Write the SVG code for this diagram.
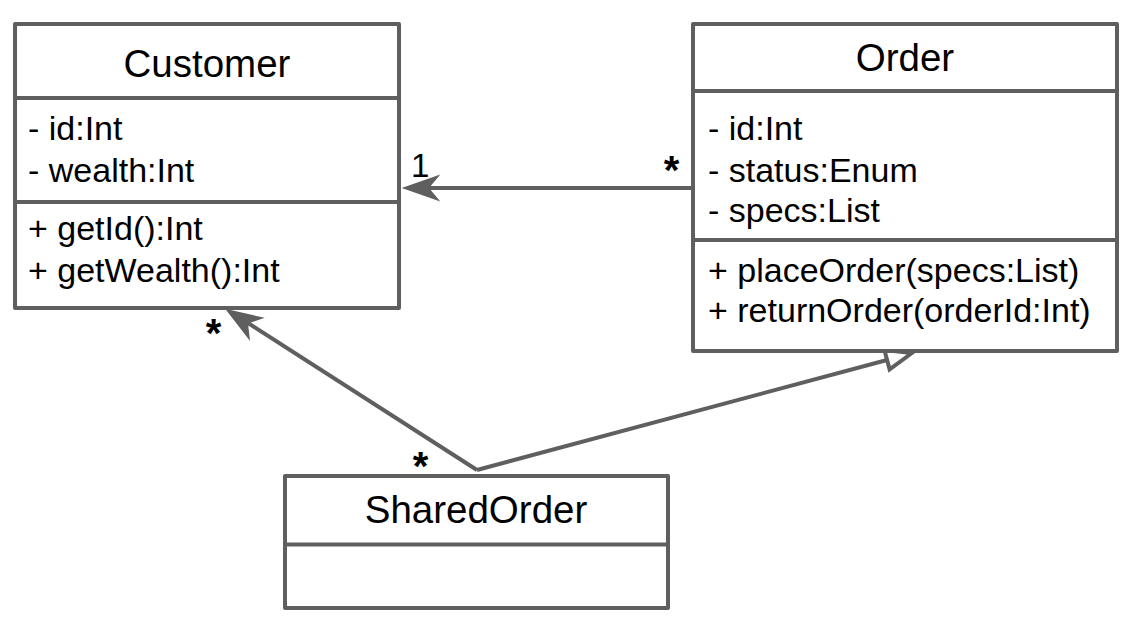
<svg xmlns="http://www.w3.org/2000/svg" width="1140" height="626" viewBox="0 0 1140 626">
<style>
.box{fill:#ffffff;stroke:#5f5f5f;stroke-width:4;stroke-linejoin:round}
.div{stroke:#5f5f5f;stroke-width:4;fill:none}
.t{font-family:"Liberation Sans",Arial,sans-serif;fill:#000000}
.title{font-size:38.5px;text-anchor:middle}
.attr{font-size:34px}
.mult{font-size:33px}
.star{font-size:40px;font-weight:bold;text-anchor:middle}
.edge{stroke:#5f5f5f;stroke-width:4;fill:none}
.head{fill:#5f5f5f;stroke:#5f5f5f;stroke-width:1.5;stroke-linejoin:miter}
.tri{fill:#ffffff;stroke:#5f5f5f;stroke-width:4;stroke-linejoin:miter}
</style>
<rect width="1140" height="626" fill="#ffffff"/>
<g id="connectors">
  <line class="edge" x1="693" y1="188" x2="416" y2="188"/>
  <path class="head" d="M404,188 L438,176 L428,188 L438,200 Z"/>
  <line class="edge" x1="477" y1="470" x2="237" y2="316"/>
  <path class="head" d="M227,310 L262,318 L247.2,323 L249,338.4 Z"/>
  <line class="edge" x1="477" y1="470" x2="887" y2="360"/>
  <path class="tri" d="M912,353 L889.6,369.3 L884.4,350 Z"/>
  <text class="t mult" x="411" y="177">1</text>
  <text class="t star" x="671.5" y="184">*</text>
  <text class="t star" x="213.5" y="347">*</text>
  <text class="t star" x="420.5" y="480">*</text>
</g>
<g id="customer">
  <rect class="box" x="15" y="24" width="384" height="284"/>
  <line class="div" x1="15" y1="98" x2="399" y2="98"/>
  <line class="div" x1="15" y1="202" x2="399" y2="202"/>
  <text class="t title" x="207" y="77">Customer</text>
  <text class="t attr" x="28" y="140">- id:Int</text>
  <text class="t attr" x="28" y="182">- wealth:Int</text>
  <text class="t attr" x="28" y="240">+ getId():Int</text>
  <text class="t attr" x="28" y="282">+ getWealth():Int</text>
</g>
<g id="order">
  <rect class="box" x="693" y="24" width="424" height="327"/>
  <line class="div" x1="693" y1="91" x2="1117" y2="91"/>
  <line class="div" x1="693" y1="240" x2="1117" y2="240"/>
  <text class="t title" x="905" y="71">Order</text>
  <text class="t attr" x="708" y="140">- id:Int</text>
  <text class="t attr" x="708" y="182">- status:Enum</text>
  <text class="t attr" x="708" y="222">- specs:List</text>
  <text class="t attr" x="708" y="282">+ placeOrder(specs:List)</text>
  <text class="t attr" x="708" y="322">+ returnOrder(orderId:Int)</text>
</g>
<g id="sharedorder">
  <rect class="box" x="285" y="476" width="383" height="132"/>
  <line class="div" x1="285" y1="544.5" x2="668" y2="544.5"/>
  <text class="t title" x="476" y="523">SharedOrder</text>
</g>
</svg>
